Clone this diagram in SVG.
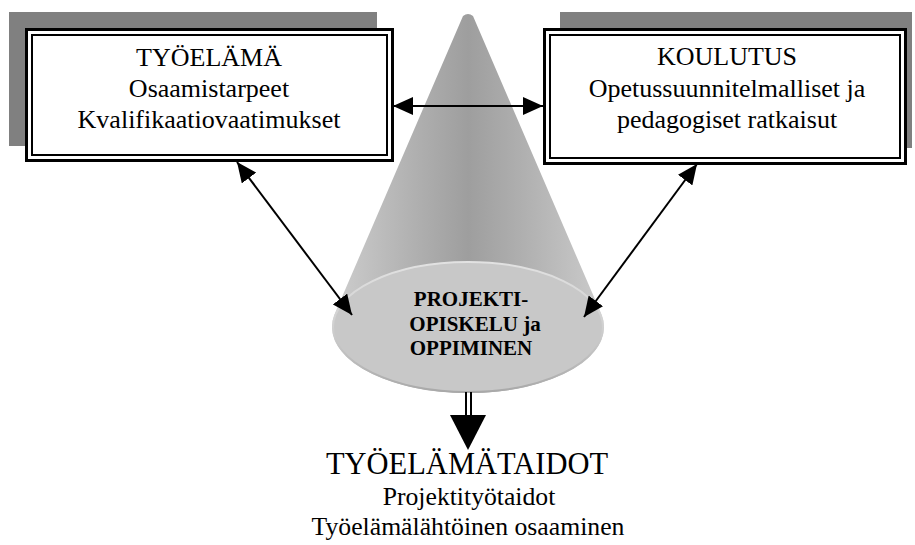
<svg xmlns="http://www.w3.org/2000/svg" width="915" height="545" viewBox="0 0 915 545">
  <style>
    .shadow { fill: #808080; }
    .outer { fill: #ffffff; stroke: #000000; stroke-width: 3; }
    .inner { fill: none; stroke: #000000; stroke-width: 2; }
    .boxtxt { font-family: "Liberation Serif", "Times New Roman", serif; font-size: 26px; fill: #000000; text-anchor: middle; }
    .conetxt { font-family: "Liberation Serif", "Times New Roman", serif; font-size: 21px; font-weight: bold; fill: #000000; text-anchor: middle; }
    .outtxt { font-family: "Liberation Serif", "Times New Roman", serif; font-size: 25.7px; fill: #000000; text-anchor: middle; }
    .outhead { font-size: 30.5px; }
    .link { stroke: #000000; stroke-width: 2; fill: none; }
  </style>
  <defs>
    <marker id="head" viewBox="0 0 20 18" refX="20" refY="9" markerWidth="20" markerHeight="18" markerUnits="userSpaceOnUse" orient="auto-start-reverse">
      <path d="M0,0 L20,9 L0,18 Z" fill="#000000"/>
    </marker>
    <linearGradient id="coneFill" x1="335" y1="0" x2="601" y2="0" gradientUnits="userSpaceOnUse">
      <stop offset="0" stop-color="#cdcdcd"/>
      <stop offset="0.3" stop-color="#b0b0b0"/>
      <stop offset="0.5" stop-color="#9e9e9e"/>
      <stop offset="0.7" stop-color="#afafaf"/>
      <stop offset="1" stop-color="#cbcbcb"/>
    </linearGradient>
    <linearGradient id="rim" x1="0" y1="261" x2="0" y2="393" gradientUnits="userSpaceOnUse">
      <stop offset="0" stop-color="#e2e2e2"/>
      <stop offset="0.5" stop-color="#d0d0d0"/>
      <stop offset="1" stop-color="#a8a8a8"/>
    </linearGradient>
  </defs>

  <!-- central cone -->
  <g id="cone">
    <path d="M463,16 Q468,12 473,16 L600.9,313.1 A136,66 0 1 1 335.1,313.1 Z" fill="url(#coneFill)"/>
    <ellipse cx="468" cy="327" rx="135" ry="65" fill="#c8c8c8" stroke="url(#rim)" stroke-width="2"/>
    <text class="conetxt" x="471" y="306">PROJEKTI-</text>
    <text class="conetxt" x="475" y="331">OPISKELU ja</text>
    <text class="conetxt" x="471" y="355">OPPIMINEN</text>
  </g>

  <!-- working life box -->
  <g id="tyoelama">
    <rect class="shadow" x="9" y="12" width="368" height="134"/>
    <rect class="outer" x="26.5" y="29.5" width="366" height="131"/>
    <rect class="inner" x="32" y="35" width="355" height="120"/>
    <text class="boxtxt" x="209" y="66">TYÖELÄMÄ</text>
    <text class="boxtxt" x="209" y="97">Osaamistarpeet</text>
    <text class="boxtxt" x="209" y="128">Kvalifikaatiovaatimukset</text>
  </g>

  <!-- education box -->
  <g id="koulutus">
    <rect class="shadow" x="560" y="12" width="352" height="136"/>
    <rect class="outer" x="544.5" y="29.5" width="361" height="134"/>
    <rect class="inner" x="550" y="35" width="350" height="123"/>
    <text class="boxtxt" x="727" y="65">KOULUTUS</text>
    <text class="boxtxt" x="727" y="97">Opetussuunnitelmalliset ja</text>
    <text class="boxtxt" x="727" y="128">pedagogiset ratkaisut</text>
  </g>

  <!-- resulting skills -->
  <g id="tyoelamataidot">
    <text class="outtxt outhead" x="467" y="474">TYÖELÄMÄTAIDOT</text>
    <text class="outtxt" x="469" y="505">Projektityötaidot</text>
    <text class="outtxt" x="468" y="535">Työelämälähtöinen osaaminen</text>
  </g>

  <!-- connectors -->
  <g id="connectors">
    <line class="link" x1="393" y1="106" x2="543" y2="106" marker-start="url(#head)" marker-end="url(#head)"/>
    <line class="link" x1="237" y1="162" x2="352" y2="315" marker-start="url(#head)" marker-end="url(#head)"/>
    <line class="link" x1="697" y1="164" x2="584" y2="317" marker-start="url(#head)" marker-end="url(#head)"/>
    <line x1="466" y1="392" x2="466" y2="416" stroke="#000000" stroke-width="2"/>
    <line x1="471" y1="392" x2="471" y2="416" stroke="#000000" stroke-width="2"/>
    <path d="M450,415 L486,415 L468,450 Z" fill="#000000"/>
  </g>
</svg>
